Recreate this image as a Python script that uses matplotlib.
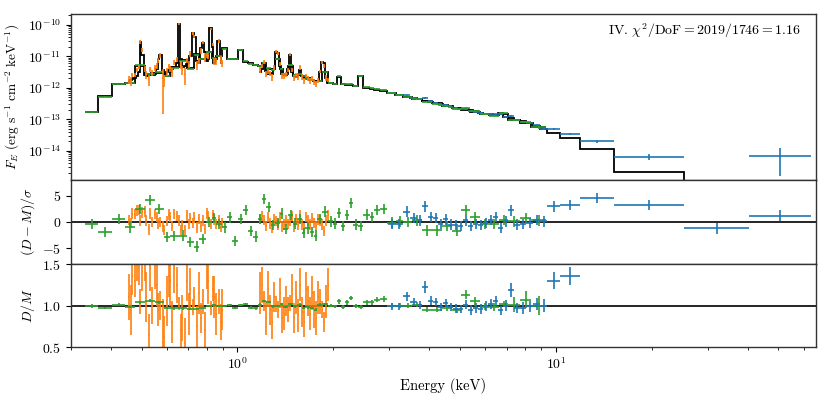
import numpy as np
import matplotlib
matplotlib.use('Agg')
import matplotlib.pyplot as plt

plt.rcParams.update({
    'font.family': 'serif',
    'font.serif': ['cmr10'],
    'mathtext.fontset': 'cm',
    'axes.formatter.use_mathtext': True,
    'font.size': 10,
})

# ---------------- data ----------------
# green: broadband CCD spectrum (bin edges in keV)
green_edges = [0.331, 0.366, 0.405, 0.442, 0.475, 0.511, 0.549, 0.586, 0.616, 0.653,
               0.692, 0.728, 0.760, 0.794, 0.829, 0.859, 0.897, 0.930, 0.964, 1.007,
               1.044, 1.083, 1.123, 1.164, 1.198, 1.233, 1.279, 1.316, 1.364, 1.394,
               1.445, 1.498, 1.543, 1.600, 1.635, 1.695, 1.744, 1.782, 1.848, 1.930,
               2.001, 2.060, 2.121, 2.183, 2.246, 2.312, 2.398, 2.486, 2.615, 2.691,
               2.810, 2.956, 3.155, 3.318, 3.541, 3.806, 4.092, 4.398, 4.727, 5.045,
               5.384, 5.788, 6.177, 6.639, 7.086, 7.727, 8.367, 9.324]
green_log_model = [-12.78, -12.27, -11.89, -11.85, -11.30, -11.58, -11.52, -11.62, -11.35, -11.12,
                   -11.38, -10.93, -11.08, -10.88, -11.05, -10.98, -10.75, -11.10, -11.08, -10.80,
                   -11.17, -11.22, -11.27, -11.32, -11.22, -11.40, -11.42, -11.10, -11.40, -11.55,
                   -11.30, -11.60, -11.58, -11.62, -11.70, -11.74, -11.78, -11.80, -11.50, -11.86,
                   -11.88, -11.66, -11.88, -11.90, -11.91, -11.93, -11.63, -12.00, -12.03, -12.06,
                   -12.09, -12.16, -12.22, -12.31, -12.37, -12.42, -12.50, -12.57, -12.64, -12.70,
                   -12.77, -12.84, -12.88, -12.82, -13.02, -13.12, -13.25]
green_resid = [-0.4, -1.9, 0.6, -1.0, 2.5, 4.2, 2.5, -2.9, -2.7, -2.6,
               -3.8, -4.7, -3.2, 0.0, 0.8, -0.4, -1.0, 0.9, -3.6, 0.6,
               2.3, -1.7, -2.8, 0.6, 4.4, 2.9, -0.6, -0.2, 1.6, -1.3,
               1.3, -0.3, 0.6, -2.1, -1.2, -1.9, -2.6, 0.6, 2.0, 0.1,
               -0.3, 1.7, -0.8, 1.3, 3.6, -0.5, -0.8, 1.4, 1.0, 2.3,
               2.5, -0.1, 0.1, 0.0, 0.3, -1.6, -1.6, -0.8, -1.7, 2.3,
               0.9, -0.4, -0.4, 0.4, 0.1, 0.8, 0.3]
green_ratio = [0.99, 0.97, 1.01, 0.985, 1.04, 1.06, 1.04, 0.965, 0.965, 0.965,
               0.96, 0.955, 0.965, 1.0, 1.01, 0.995, 0.99, 1.01, 0.97, 1.01,
               1.02, 0.975, 0.965, 1.01, 1.05, 1.04, 0.99, 1.0, 1.02, 0.98,
               1.02, 0.99, 1.01, 0.97, 0.98, 0.97, 0.95, 1.01, 1.02, 1.0,
               0.99, 1.05, 0.98, 1.04, 1.09, 0.99, 0.98, 1.04, 1.04, 1.07,
               1.08, 1.0, 1.0, 1.0, 1.01, 0.95, 0.95, 0.97, 0.94, 1.13,
               1.05, 0.985, 0.98, 1.02, 1.01, 1.07, 1.0]
green_ratio_err = [0.025, 0.016, 0.016, 0.015, 0.016, 0.014, 0.016, 0.012, 0.013, 0.013,
                   0.011, 0.010, 0.011, 0.011, 0.012, 0.012, 0.010, 0.011, 0.008, 0.012,
                   0.010, 0.014, 0.013, 0.015, 0.011, 0.013, 0.015, 0.012, 0.014, 0.015,
                   0.014, 0.016, 0.016, 0.015, 0.016, 0.016, 0.019, 0.018, 0.011, 0.018,
                   0.020, 0.030, 0.022, 0.028, 0.025, 0.024, 0.022, 0.028, 0.030, 0.030,
                   0.032, 0.030, 0.030, 0.032, 0.033, 0.031, 0.032, 0.035, 0.035, 0.056,
                   0.055, 0.045, 0.050, 0.040, 0.090, 0.100, 0.110]

# blue: hard X-ray spectrum
blue_edges = [2.977, 3.131, 3.318, 3.490, 3.671, 3.806, 3.975, 4.121, 4.272, 4.430,
              4.593, 4.762, 4.937, 5.118, 5.306, 5.501, 5.704, 5.914, 6.131, 6.357,
              6.591, 6.832, 7.086, 7.399, 7.727, 8.069, 8.489, 8.926, 9.391, 10.32,
              11.92, 15.24, 25.27, 40.43, 63.25]
blue_log_model = [-12.16, -12.22, -12.29, -12.34, -12.37, -12.42, -12.46, -12.50, -12.53, -12.56,
                  -12.59, -12.63, -12.66, -12.69, -12.72, -12.75, -12.79, -12.82, -12.85, -12.87,
                  -12.80, -12.92, -12.97, -13.02, -13.07, -13.13, -13.20, -13.30, -13.43, -13.61,
                  -13.95, -14.69, -15.20, -15.40]
blue_resid = [-0.4, -0.4, 2.0, 0.8, 0.3, 3.0, 1.0, 0.8, -0.4, 0.5,
              -0.5, -0.6, -0.8, 0.3, -0.8, -0.4, -0.6, -0.2, 0.4, 1.0,
              -1.1, 0.1, 2.2, -0.5, -0.4, -0.2, 0.4, 0.1, 3.0, 3.2,
              4.6, 3.2, -1.2, 1.2]
blue_ratio = [0.99, 0.99, 1.11, 1.04, 1.01, 1.22, 1.06, 1.04, 0.98, 1.03,
              0.98, 0.96, 0.96, 1.01, 0.95, 0.97, 0.96, 0.99, 1.02, 1.06,
              0.94, 1.0, 1.19, 0.97, 0.97, 0.99, 1.02, 1.0, 1.30, 1.36,
              1.75, 3.2, -3.0, 17.4]
blue_ratio_err = [0.04, 0.04, 0.05, 0.045, 0.05, 0.07, 0.05, 0.05, 0.05, 0.05,
                  0.05, 0.055, 0.05, 0.055, 0.06, 0.06, 0.06, 0.06, 0.06, 0.06,
                  0.055, 0.07, 0.085, 0.065, 0.07, 0.07, 0.07, 0.08, 0.10, 0.11,
                  0.16, 0.69, 3.3, 13.5]

# orange: high-resolution grating spectrum (two segments, bin centres in keV)
orange_E1 = [0.455, 0.462, 0.468, 0.475, 0.482, 0.489, 0.496, 0.503, 0.511, 0.518,
             0.526, 0.533, 0.541, 0.549, 0.557, 0.565, 0.573, 0.582, 0.590, 0.599,
             0.608, 0.616, 0.625, 0.634, 0.644, 0.653, 0.663, 0.672, 0.682, 0.692,
             0.702, 0.712, 0.723, 0.733, 0.744, 0.755, 0.766, 0.777, 0.788, 0.800,
             0.811, 0.823, 0.835, 0.847, 0.859, 0.872, 0.885, 0.897]
orange_log_model1 = [-11.78, -11.76, -11.72, -11.70, -11.62, -11.50, -10.55, -10.95, -11.60, -11.62,
                     -11.55, -11.58, -11.52, -11.55, -11.40, -11.10, -10.96, -11.45, -11.55, -11.50,
                     -11.45, -11.50, -11.40, -11.35, -11.20, -9.97, -11.10, -11.35, -11.30, -11.25,
                     -11.20, -11.00, -10.27, -10.40, -11.15, -11.20, -10.75, -10.58, -10.85, -11.15,
                     -11.10, -10.11, -10.70, -11.20, -11.10, -10.53, -11.00, -11.20]
orange_ratio1 = [1.10, 0.95, 1.35, 1.30, 1.55, 1.45, 1.05, 1.40, 1.60, 1.10,
                 0.65, 1.45, 1.00, 1.55, 1.25, 0.95, 1.00, 0.56, 0.62, 1.05,
                 1.35, 1.30, 0.80, 1.45, 1.25, 1.02, 0.70, 0.85, 0.55, 1.30,
                 0.90, 1.20, 0.98, 1.10, 0.75, 1.15, 0.85, 1.05, 0.70, 1.50,
                 1.30, 0.97, 1.20, 1.10, 0.90, 1.05, 0.80, 0.95]
orange_ratio_err1 = [0.28, 0.30, 0.22, 0.20, 0.25, 0.20, 0.15, 0.22, 0.30, 0.30,
                     0.25, 0.28, 0.22, 0.35, 0.25, 0.20, 0.18, 0.52, 0.25, 0.30,
                     0.25, 0.30, 0.25, 0.30, 0.22, 0.08, 0.20, 0.28, 0.30, 0.25,
                     0.25, 0.25, 0.10, 0.12, 0.25, 0.25, 0.18, 0.15, 0.22, 0.30,
                     0.28, 0.08, 0.15, 0.25, 0.25, 0.15, 0.22, 0.25]
orange_E2 = [1.181, 1.198, 1.216, 1.233, 1.251, 1.269, 1.288, 1.307, 1.326, 1.345,
             1.365, 1.384, 1.405, 1.425, 1.446, 1.467, 1.488, 1.510, 1.532, 1.554,
             1.577, 1.600, 1.623, 1.646, 1.670, 1.695, 1.719, 1.744, 1.770, 1.796,
             1.822, 1.848, 1.875, 1.902, 1.930]
orange_log_model2 = [-11.50, -11.40, -11.20, -11.48, -11.55, -11.52, -11.55, -11.40, -10.85, -10.90,
                     -11.30, -11.55, -11.58, -11.60, -11.40, -10.96, -11.50, -11.62, -11.65, -11.60,
                     -11.45, -11.62, -11.68, -11.70, -11.72, -11.74, -11.76, -11.78, -11.80, -11.80,
                     -11.50, -11.17, -11.20, -11.70, -11.85]
orange_ratio2 = [1.15, 1.25, 1.05, 0.85, 1.20, 0.95, 0.80, 1.10, 1.02, 0.95,
                 1.15, 0.85, 0.90, 1.05, 0.95, 1.03, 1.20, 0.85, 1.10, 0.88,
                 1.25, 0.92, 0.80, 1.20, 1.05, 0.90, 1.15, 0.95, 0.85, 1.10,
                 1.05, 0.95, 0.80, 1.05, 1.25]
orange_ratio_err2 = [0.25, 0.22, 0.12, 0.20, 0.22, 0.18, 0.20, 0.18, 0.10, 0.10,
                     0.18, 0.18, 0.20, 0.18, 0.15, 0.10, 0.18, 0.18, 0.20, 0.20,
                     0.20, 0.18, 0.18, 0.20, 0.18, 0.20, 0.20, 0.22, 0.20, 0.20,
                     0.15, 0.10, 0.12, 0.20, 0.20]

annotation = r'IV. $\chi^2/\mathrm{DoF} = 2019/1746 = 1.16$'

C_BLUE, C_ORANGE, C_GREEN = '#1f77b4', '#ff7f0e', '#2ca02c'


# ---------------- helpers ----------------
def binned(edges, log_model, ratio, rerr):
    edges = np.asarray(edges)
    lo, hi = edges[:-1], edges[1:]
    E = np.sqrt(lo * hi)
    model = 10.0 ** np.asarray(log_model)
    ratio = np.asarray(ratio)
    rerr = np.asarray(rerr)
    return dict(edges=edges, E=E, xerr=[E - lo, hi - E], model=model,
                flux=model * ratio, ferr=model * rerr, ratio=ratio, rerr=rerr)


def centred(Ec, log_model, ratio, rerr):
    Ec = np.asarray(Ec)
    mids = np.sqrt(Ec[:-1] * Ec[1:])
    edges = np.concatenate([[Ec[0] ** 2 / mids[0]], mids, [Ec[-1] ** 2 / mids[-1]]])
    d = binned(edges, log_model, ratio, rerr)
    d['E'] = Ec
    d['xerr'] = [0.5 * (Ec - edges[:-1]), 0.5 * (edges[1:] - Ec)]
    d['resid'] = (d['ratio'] - 1.0) / d['rerr']
    return d


G = binned(green_edges, green_log_model, green_ratio, green_ratio_err)
G['resid'] = np.asarray(green_resid)
B = binned(blue_edges, blue_log_model, blue_ratio, blue_ratio_err)
B['resid'] = np.asarray(blue_resid)
O1 = centred(orange_E1, orange_log_model1, orange_ratio1, orange_ratio_err1)
O2 = centred(orange_E2, orange_log_model2, orange_ratio2, orange_ratio_err2)

# ---------------- figure ----------------
fig = plt.figure(figsize=(8.3, 3.97), dpi=100)
gs = fig.add_gridspec(3, 1, height_ratios=[166, 84, 83], hspace=0,
                      left=0.0855, right=0.9828, top=0.9647, bottom=0.1259)
ax1 = fig.add_subplot(gs[0])
ax2 = fig.add_subplot(gs[1], sharex=ax1)
ax3 = fig.add_subplot(gs[2], sharex=ax1)

# model step lines
for d in (G, B, O1, O2):
    ax1.stairs(d['model'], d['edges'], baseline=None, color='k', lw=1.3, zorder=2)

ekw = dict(fmt='none', elinewidth=1.2, capsize=0)
pos = B['flux'] > 0
ax1.errorbar(B['E'][pos], B['flux'][pos],
             xerr=[B['xerr'][0][pos], B['xerr'][1][pos]], yerr=B['ferr'][pos],
             ecolor=C_BLUE, zorder=3, **ekw)
ax1.errorbar(G['E'], G['flux'], xerr=G['xerr'], yerr=G['ferr'], ecolor=C_GREEN, zorder=4, **ekw)
for d in (O1, O2):
    ax1.errorbar(d['E'], d['flux'], xerr=d['xerr'], yerr=d['ferr'], ecolor=C_ORANGE,
                 zorder=5, fmt='none', elinewidth=1.2, capsize=0)

ax2.axhline(0, color='k', lw=1.2, zorder=1)
ax3.axhline(1.0, color='k', lw=1.2, zorder=1)
for ax, key, errkey in ((ax2, 'resid', None), (ax3, 'ratio', 'rerr')):
    for d, col, lw, z in ((O1, C_ORANGE, 1.2, 2), (O2, C_ORANGE, 1.2, 2),
                          (G, C_GREEN, 1.2, 3), (B, C_BLUE, 1.2, 4)):
        yerr = np.ones_like(d[key]) if errkey is None else d[errkey]
        ax.errorbar(d['E'], d[key], xerr=d['xerr'], yerr=yerr, fmt='none',
                    ecolor=col, elinewidth=lw, capsize=0, zorder=z)

ax1.set_xscale('log')
ax1.set_xlim(0.30, 65.5)
ax1.set_yscale('log')
ax1.set_ylim(1.17e-15, 2.2e-10)
ax2.set_ylim(-8, 8)
ax2.set_yticks([-5, 0, 5])
ax3.set_ylim(0.5, 1.5)
ax3.set_yticks([0.5, 1.0, 1.5])
ax3.yaxis.set_major_formatter(matplotlib.ticker.FormatStrFormatter(r'$%.1f$'))

for ax in (ax1, ax2):
    ax.tick_params(axis='x', which='both', bottom=False, labelbottom=False)
for ax in (ax1, ax2, ax3):
    for s in ax.spines.values():
        s.set_linewidth(1.0)
        s.set_color('0.2')
    ax.tick_params(which='major', length=3.5, width=0.8)
    ax.tick_params(which='minor', length=2, width=0.6)

ax1.set_ylabel(r'$F_E\ (\mathrm{erg\ s^{-1}\ cm^{-2}\ keV^{-1}})$', fontsize=9.6, labelpad=4)
ax2.set_ylabel(r'$(D-M)/\sigma$', fontsize=10)
ax3.set_ylabel(r'$D/M$', fontsize=10)
ax3.set_xlabel('Energy (keV)', fontsize=10.5)
ax1.text(0.98, 0.90, annotation, transform=ax1.transAxes, ha='right', va='center', fontsize=10)

fig.savefig('out.png', dpi=100)
